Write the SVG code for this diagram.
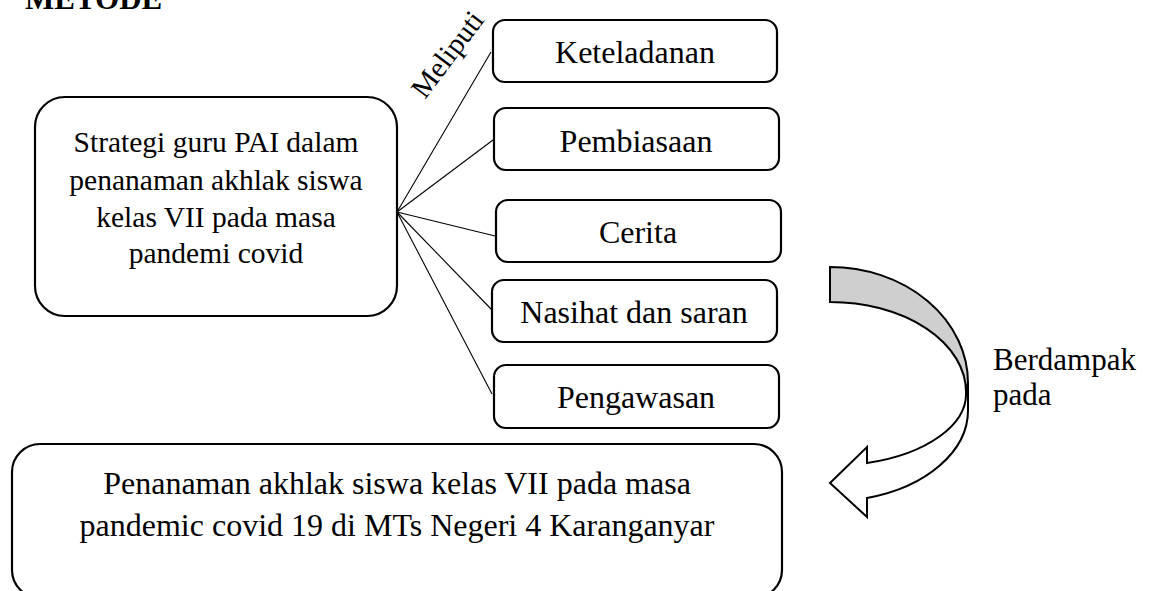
<svg xmlns="http://www.w3.org/2000/svg" width="1152" height="591" viewBox="0 0 1152 591">
<style>
.box{fill:#fff;stroke:#000;stroke-width:2.2}
.t{font-family:"Liberation Serif","Times New Roman",serif;fill:#000;text-anchor:middle}
.s{font-size:32px}
.m{font-size:29.5px}
.ln{stroke:#000;stroke-width:1.1;fill:none}
</style>
<rect width="1152" height="591" fill="#fff"/>
<text x="25" y="9" style="font-family:'Liberation Serif',serif;font-weight:bold;font-size:31px">METODE</text>
<g id="connectors">
<line class="ln" x1="397" y1="212" x2="491" y2="52"/>
<line class="ln" x1="397" y1="212" x2="493" y2="140"/>
<line class="ln" x1="397" y1="212" x2="495" y2="236"/>
<line class="ln" x1="397" y1="212" x2="492" y2="310"/>
<line class="ln" x1="397" y1="212" x2="492" y2="394"/>
<text transform="translate(425,100) rotate(-53)" style="font-family:'Liberation Serif',serif;font-size:29px">Meliputi</text>
</g>
<g id="main">
<rect class="box" x="35" y="97" width="362" height="219" rx="30"/>
<text class="t m" x="216" y="152">Strategi guru PAI dalam</text>
<text class="t m" x="216" y="190">penanaman akhlak siswa</text>
<text class="t m" x="216" y="227">kelas VII pada masa</text>
<text class="t m" x="216" y="263">pandemi covid</text>
</g>
<g id="keteladanan">
<rect class="box" x="493" y="20" width="284" height="62" rx="12"/>
<text class="t s" x="635" y="63">Keteladanan</text>
</g>
<g id="pembiasaan">
<rect class="box" x="494" y="108" width="285" height="62" rx="12"/>
<text class="t s" x="636" y="152">Pembiasaan</text>
</g>
<g id="cerita">
<rect class="box" x="496" y="200" width="285" height="62" rx="12"/>
<text class="t s" x="638" y="243">Cerita</text>
</g>
<g id="nasihat">
<rect class="box" x="492" y="280" width="285" height="62" rx="12"/>
<text class="t s" x="634" y="323">Nasihat dan saran</text>
</g>
<g id="pengawasan">
<rect class="box" x="494" y="365" width="285" height="63" rx="12"/>
<text class="t s" x="636" y="408">Pengawasan</text>
</g>
<g id="result">
<rect class="box" x="12" y="444" width="770" height="154" rx="28"/>
<text class="t s" x="397" y="494">Penanaman akhlak siswa kelas VII pada masa</text>
<text class="t s" x="397" y="536">pandemic covid 19 di MTs Negeri 4 Karanganyar</text>
</g>
<g id="curved-arrow">
<path d="M830,267 A138,116 0 0 1 968,383 L966,392 A136,90 0 0 0 830,302 Z" fill="#cfcfcf" stroke="#000" stroke-width="2"/>
<path d="M968,383 L968,410 A138,91 0 0 1 867,498 L867,517 L830,483 L867,447 L867,463 A136,72 0 0 0 966,392 Z" fill="#fff" stroke="#000" stroke-width="2" stroke-linejoin="miter"/>
</g>
<g id="label-berdampak">
<text x="993" y="370" style="font-family:'Liberation Serif',serif;font-size:31px">Berdampak</text>
<text x="993" y="405" style="font-family:'Liberation Serif',serif;font-size:31px">pada</text>
</g>
</svg>
